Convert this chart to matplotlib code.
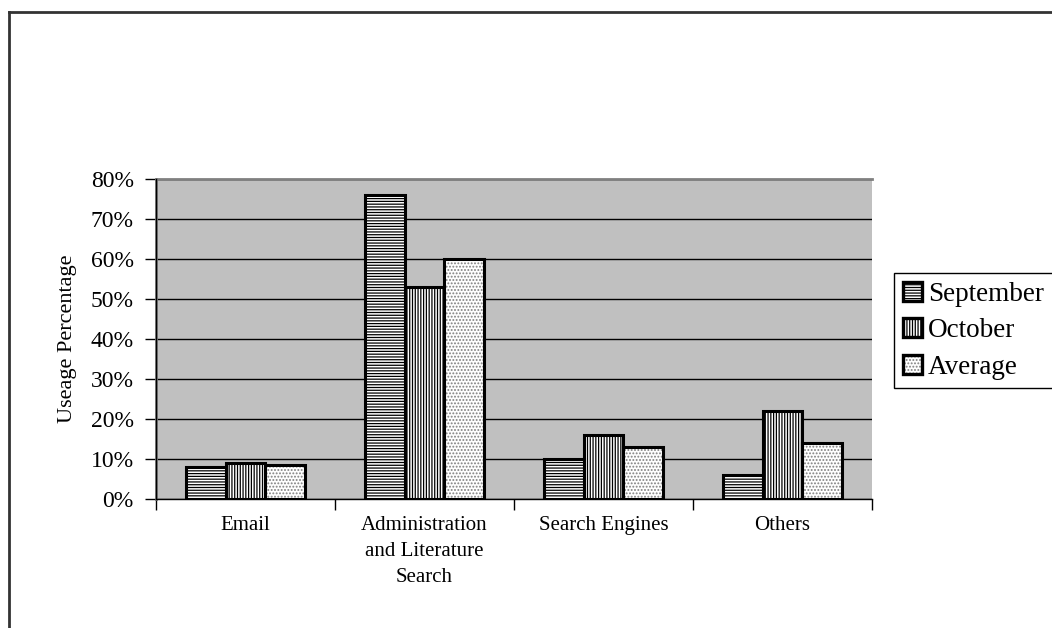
import numpy as np
import matplotlib
matplotlib.use('Agg')
import matplotlib.pyplot as plt
from matplotlib.lines import Line2D
from matplotlib.patches import Patch
from matplotlib.ticker import PercentFormatter

plt.rcParams['font.family'] = ['Liberation Serif', 'DejaVu Serif']
plt.rcParams['hatch.linewidth'] = 0.9

# data (percent)
categories = ['Email', 'Administration\nand Literature\nSearch', 'Search Engines', 'Others']
series_names = ['September', 'October', 'Average']
september = [8, 76, 10, 6]
october = [9, 53, 16, 22]
average = [8.5, 60, 13, 14]

hatches = ['------', '||||||', '.....']
hatch_colors = ['black', 'black', '#808080']

fig = plt.figure(figsize=(10.52, 6.28), dpi=100)
ax = fig.add_axes([156 / 1052, 1 - 499 / 628, 716 / 1052, 320 / 628])
ax.set_facecolor('#C0C0C0')

w = 0.223
x = np.arange(len(categories)) + 0.5
handles = []
for j, vals in enumerate([september, october, average]):
    pos = x + (j - 1) * w
    # hatched fill, then a black outline on top
    ax.bar(pos, vals, w, color='white', edgecolor=hatch_colors[j], hatch=hatches[j],
           linewidth=0, zorder=3)
    ax.bar(pos, vals, w, fill=False, edgecolor='black', linewidth=2.2, zorder=4)
    h1 = Patch(facecolor='white', edgecolor=hatch_colors[j], hatch=hatches[j], linewidth=0)
    h2 = Patch(fill=False, edgecolor='black', linewidth=2.4)
    handles.append((h1, h2))

ax.set_xlim(0, len(categories))
ax.set_ylim(0, 80)
ax.set_yticks(np.arange(0, 81, 10))
ax.yaxis.set_major_formatter(PercentFormatter(decimals=0))
ax.yaxis.grid(True, color='black', linewidth=1.0, zorder=1)
ax.set_axisbelow(True)

ax.set_xticks(np.arange(0, len(categories) + 1))
ax.set_xticklabels([])
ax.set_xticks(x, minor=True)
ax.set_xticklabels(categories, minor=True, fontsize=15, linespacing=1.5)
ax.tick_params(axis='x', which='minor', length=0, pad=12)
ax.tick_params(axis='x', which='major', length=8, width=1, direction='out')
ax.tick_params(axis='y', length=8, width=1, direction='out', pad=8, labelsize=17)

ax.set_ylabel('Useage Percentage', fontsize=16, labelpad=10)

for side in ['top', 'left']:
    ax.spines[side].set_color('#808080')
    ax.spines[side].set_linewidth(2)
ax.spines['right'].set_visible(False)
ax.spines['bottom'].set_color('black')
ax.spines['bottom'].set_linewidth(1)
ax.plot([0, 0], [0, 80], color='black', linewidth=1, zorder=5, clip_on=False)

fig.legend(handles, series_names, loc='upper left',
           bbox_to_anchor=(894 / 1052, 1 - 273 / 628), fontsize=19.5,
           frameon=True, fancybox=False, edgecolor='black', framealpha=1,
           handlelength=0.72, handleheight=0.72, handletextpad=0.22,
           borderpad=0.32, labelspacing=0.42, borderaxespad=0)

# outer frame of the chart area
fig.add_artist(Line2D([9 / 1052, 9 / 1052], [-0.01, 1 - 12 / 628], transform=fig.transFigure,
                      color='#333333', linewidth=2))
fig.add_artist(Line2D([9 / 1052, 1.01], [1 - 12 / 628, 1 - 12 / 628], transform=fig.transFigure,
                      color='#333333', linewidth=2))

fig.savefig('out.png', dpi=100)
